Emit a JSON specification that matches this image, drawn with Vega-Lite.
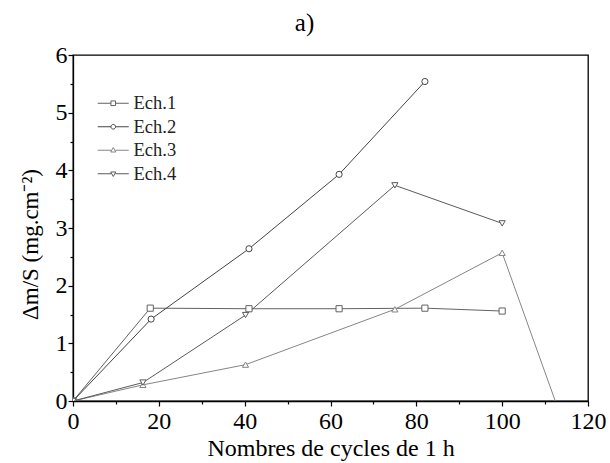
{
  "$schema": "https://vega.github.io/schema/vega-lite/v6.json",
  "autosize": "none",
  "width": 515,
  "height": 346,
  "padding": {"left": 73, "top": 55, "right": 22, "bottom": 62},
  "background": "white",
  "title": {"text": "a)", "font": "Liberation Serif", "fontSize": 25, "fontWeight": "normal", "color": "black", "anchor": "middle", "dx": -26, "offset": 7},
  "config": {
    "view": {"stroke": "black", "strokeWidth": 1.3},
    "axis": {
      "labelFont": "Liberation Serif", "titleFont": "Liberation Serif",
      "labelColor": "black", "titleColor": "black",
      "domainColor": "black", "tickColor": "black", "domainWidth": 1.3, "tickWidth": 1.2,
      "grid": false, "titleFontWeight": "normal"
    },
    "legend": {"labelFont": "Liberation Serif", "labelColor": "#222"}
  },
  "data": {"values": [
    {"series": "Ech.1", "x": 0, "y": 0},
    {"series": "Ech.1", "x": 18, "y": 1.61},
    {"series": "Ech.1", "x": 41, "y": 1.6},
    {"series": "Ech.1", "x": 62, "y": 1.6},
    {"series": "Ech.1", "x": 82, "y": 1.61},
    {"series": "Ech.1", "x": 100, "y": 1.56},
    {"series": "Ech.2", "x": 0, "y": 0},
    {"series": "Ech.2", "x": 18.2, "y": 1.42},
    {"series": "Ech.2", "x": 41, "y": 2.64},
    {"series": "Ech.2", "x": 62, "y": 3.93},
    {"series": "Ech.2", "x": 82, "y": 5.54},
    {"series": "Ech.3", "x": 0, "y": 0},
    {"series": "Ech.3", "x": 16.3, "y": 0.28},
    {"series": "Ech.3", "x": 40.2, "y": 0.63},
    {"series": "Ech.3", "x": 75, "y": 1.59},
    {"series": "Ech.3", "x": 100, "y": 2.57},
    {"series": "Ech.3", "x": 113, "y": -0.13},
    {"series": "Ech.4", "x": 0, "y": 0},
    {"series": "Ech.4", "x": 16.3, "y": 0.32},
    {"series": "Ech.4", "x": 40.2, "y": 1.49},
    {"series": "Ech.4", "x": 75, "y": 3.74},
    {"series": "Ech.4", "x": 100, "y": 3.08}
  ]},
  "resolve": {"axis": {"x": "independent", "y": "independent"}},
  "layer": [
    {
      "mark": {"type": "line", "strokeWidth": 1, "clip": true},
      "encoding": {
        "x": {"field": "x", "type": "quantitative", "scale": {"domain": [0, 120], "nice": false, "zero": false},
          "axis": {"values": [0, 20, 40, 60, 80, 100, 120], "labelFontSize": 24, "titleFontSize": 24, "tickSize": 5, "labelPadding": 3, "titlePadding": 3, "labelFlush": false, "title": "Nombres de cycles de 1 h"}},
        "y": {"field": "y", "type": "quantitative", "scale": {"domain": [0, 6], "nice": false, "zero": false},
          "axis": {"values": [0, 1, 2, 3, 4, 5, 6], "labelFontSize": 24, "titleFontSize": 23, "tickSize": 5, "labelPadding": 1, "titlePadding": 13, "titleY": 189, "labelFlush": false, "title": "Δm/S (mg.cm⁻²)"}},
        "color": {"field": "series", "type": "nominal",
          "scale": {"domain": ["Ech.1", "Ech.2", "Ech.3", "Ech.4"], "range": ["#626262", "#444444", "#858585", "#5a5a5a"]},
          "legend": {
            "title": null, "orient": "none", "legendX": 31, "legendY": 39,
            "labelFontSize": 18.5, "symbolSize": 256, "labelOffset": 11, "rowPadding": 4.5, "padding": 0,
            "encode": {"symbols": {"update": {
              "shape": {"signal": "datum.value === 'Ech.1' ? 'M-1.94,0H-0.29M-0.29,-0.29H0.29V0.29H-0.29ZM0.29,0H1.94' : datum.value === 'Ech.2' ? 'M-1.94,0H-0.29A0.29,0.29 0 1,0 0.29,0A0.29,0.29 0 1,0 -0.29,0M0.29,0H1.94' : datum.value === 'Ech.3' ? 'M-1.94,0H-0.26M0,-0.34L0.32,0.22L-0.32,0.22ZM0.26,0H1.94' : 'M-1.94,0H-0.26M0,0.34L0.32,-0.22L-0.32,-0.22ZM0.26,0H1.94'"},
              "fill": {"value": "transparent"},
              "strokeWidth": {"value": 1}
            }}}
          }}
      }
    },
    {
      "mark": {"type": "point", "filled": false, "fill": "white", "fillOpacity": 1, "strokeWidth": 1, "size": 38, "opacity": 1, "clip": true},
      "encoding": {
        "x": {"field": "x", "type": "quantitative",
          "axis": {"orient": "bottom", "values": [10, 30, 50, 70, 90, 110], "labels": false, "domain": false, "tickSize": 3, "title": null}},
        "y": {"field": "y", "type": "quantitative",
          "axis": {"orient": "left", "values": [0.5, 1.5, 2.5, 3.5, 4.5, 5.5], "labels": false, "domain": false, "tickSize": 3, "title": null}},
        "stroke": {"field": "series", "type": "nominal", "scale": {"domain": ["Ech.1", "Ech.2", "Ech.3", "Ech.4"], "range": ["#626262", "#444444", "#858585", "#5a5a5a"]}, "legend": null},
        "shape": {
          "condition": [
            {"test": "datum.series === 'Ech.1'", "value": "square"},
            {"test": "datum.series === 'Ech.2'", "value": "circle"},
            {"test": "datum.series === 'Ech.3'", "value": "triangle-up"}
          ],
          "value": "triangle-down"
        }
      }
    }
  ]
}
